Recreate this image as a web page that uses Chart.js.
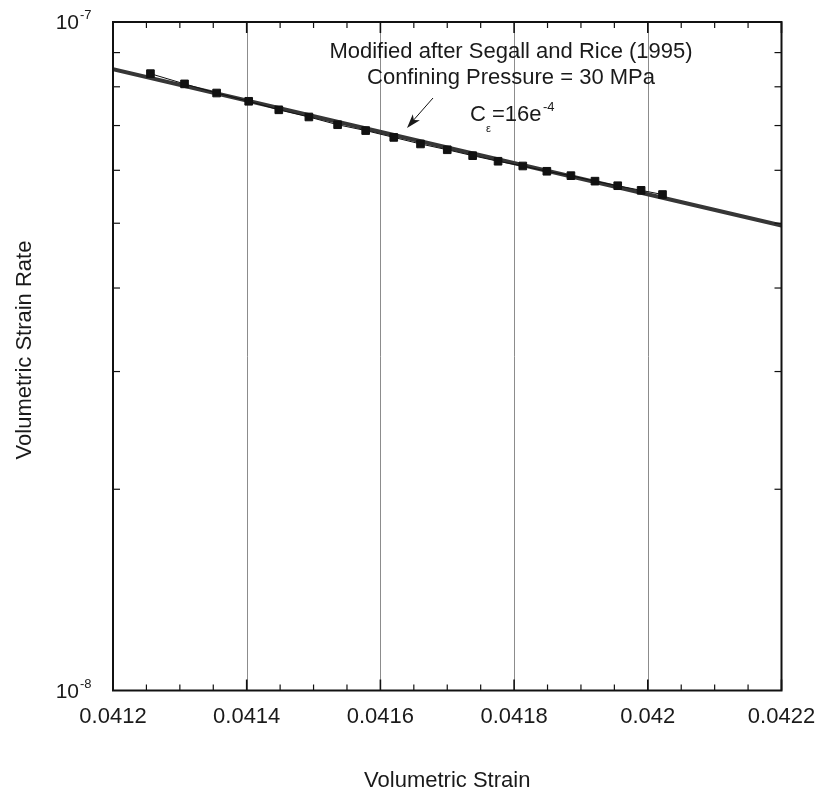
<!DOCTYPE html>
<html>
<head>
<meta charset="utf-8">
<script src="https://cdn.jsdelivr.net/npm/chart.js@4.4.1/dist/chart.umd.min.js"></script>
<style>
  body { margin: 0; background: #fff; }
  canvas { display: block; }
</style>
</head>
<body>
<canvas id="strainChart" width="817" height="793"></canvas>
<script>
// measured points (volumetric strain vs strain rate)
const strainData = [0.041256, 0.041307, 0.041355, 0.041403, 0.041448, 0.041493, 0.041536, 0.041578, 0.041620, 0.041660,
                    0.041700, 0.041738, 0.041776, 0.041813, 0.041849, 0.041885, 0.041921, 0.041955, 0.041990, 0.042022];
const rateData = [8.37e-8, 8.08e-8, 7.83e-8, 7.61e-8, 7.39e-8, 7.21e-8, 7.02e-8, 6.88e-8, 6.72e-8, 6.57e-8,
                  6.44e-8, 6.31e-8, 6.19e-8, 6.09e-8, 5.98e-8, 5.89e-8, 5.78e-8, 5.69e-8, 5.60e-8, 5.52e-8];
// model curve, C_eps = 16e-4
const fitStrain = [0.0412, 0.0417, 0.0422];
const fitRate = [8.50e-8, 6.49e-8, 4.96e-8];

// axes
const xTickValues = [0.0412, 0.0414, 0.0416, 0.0418, 0.042, 0.0422];
const xTickLabels = ['0.0412', '0.0414', '0.0416', '0.0418', '0.042', '0.0422'];
const xMinorTicks = [0.04125, 0.0413, 0.04135, 0.04145, 0.0415, 0.04155, 0.04165, 0.0417, 0.04175,
                     0.04185, 0.0419, 0.04195, 0.04205, 0.0421, 0.04215];
const yTickValues = [1e-8, 1e-7];
const yTickExps = ['-8', '-7'];
const yMinorTicks = [2e-8, 3e-8, 4e-8, 5e-8, 6e-8, 7e-8, 8e-8, 9e-8];

const FONT = '"Liberation Sans", Arial, Helvetica, sans-serif';

function txt(ctx, s, x, y, size, align) {
  ctx.font = size + 'px ' + FONT;
  ctx.textAlign = align || 'left';
  ctx.textBaseline = 'alphabetic';
  ctx.fillText(s, x, y);
}
function seg(ctx, x1, y1, x2, y2) {
  ctx.beginPath(); ctx.moveTo(x1, y1); ctx.lineTo(x2, y2); ctx.stroke();
}

const axesPlugin = {
  id: 'axesDeco',
  beforeDatasetsDraw(chart) {
    const { ctx, chartArea: a, scales: { x } } = chart;
    ctx.save();
    ctx.strokeStyle = '#8c8c8c';
    ctx.lineWidth = 1;
    xTickValues.slice(1, -1).forEach(v => {
      const px = Math.round(x.getPixelForValue(v)) + 0.5;
      seg(ctx, px, a.top, px, a.bottom);
    });
    ctx.restore();
  },
  afterDraw(chart) {
    const { ctx, chartArea: a, scales: { x, y } } = chart;
    ctx.save();
    ctx.strokeStyle = '#111';
    ctx.fillStyle = '#111';

    // tick marks, all inward
    ctx.lineWidth = 1.2;
    xMinorTicks.forEach(v => {
      const px = x.getPixelForValue(v);
      seg(ctx, px, a.bottom, px, a.bottom - 6);
      seg(ctx, px, a.top, px, a.top + 6);
    });
    ctx.lineWidth = 1.6;
    xTickValues.forEach(v => {
      const px = x.getPixelForValue(v);
      seg(ctx, px, a.bottom, px, a.bottom - 11);
      seg(ctx, px, a.top, px, a.top + 11);
    });
    ctx.lineWidth = 1.2;
    yMinorTicks.forEach(v => {
      const py = y.getPixelForValue(v);
      seg(ctx, a.left, py, a.left + 7, py);
      seg(ctx, a.right, py, a.right - 7, py);
    });

    // frame
    ctx.lineWidth = 2;
    ctx.strokeRect(a.left, a.top, a.right - a.left, a.bottom - a.top);

    // tick labels
    ctx.fillStyle = '#1a1a1a';
    xTickValues.forEach((v, i) => {
      txt(ctx, xTickLabels[i], x.getPixelForValue(v), a.bottom + 32, 22, 'center');
    });
    yTickValues.forEach((v, i) => {
      const py = y.getPixelForValue(v);
      txt(ctx, '10', 79, py + 7, 21, 'right');
      txt(ctx, yTickExps[i], 80, py - 3, 13, 'left');
    });

    // axis titles
    txt(ctx, 'Volumetric Strain', (a.left + a.right) / 2, 787, 22, 'center');
    ctx.save();
    ctx.translate(31, 350);
    ctx.rotate(-Math.PI / 2);
    txt(ctx, 'Volumetric Strain Rate', 0, 0, 22, 'center');
    ctx.restore();

    // annotation
    txt(ctx, 'Modified after Segall and Rice (1995)', 511, 58, 22, 'center');
    txt(ctx, 'Confining Pressure = 30 MPa', 511, 84, 22, 'center');
    txt(ctx, 'C', 470, 121, 22, 'left');
    txt(ctx, '\u03b5', 486, 132, 11, 'left');
    txt(ctx, '=16e', 492, 121, 22, 'left');
    txt(ctx, '-4', 543, 111, 13, 'left');

    // arrow pointing at the model curve
    const x1 = 433, y1 = 98, x2 = 407, y2 = 128;
    ctx.lineWidth = 1;
    seg(ctx, x1, y1, x2 + 4, y2 - 5);
    const ang = Math.atan2(y2 - y1, x2 - x1);
    const hl = 15, hw = 0.32;
    ctx.beginPath();
    ctx.moveTo(x2, y2);
    ctx.lineTo(x2 - hl * Math.cos(ang - hw), y2 - hl * Math.sin(ang - hw));
    ctx.lineTo(x2 - hl * 0.7 * Math.cos(ang), y2 - hl * 0.7 * Math.sin(ang));
    ctx.lineTo(x2 - hl * Math.cos(ang + hw), y2 - hl * Math.sin(ang + hw));
    ctx.closePath();
    ctx.fill();
    ctx.restore();
  }
};

const ctx = document.getElementById('strainChart').getContext('2d');
new Chart(ctx, {
  type: 'scatter',
  data: {
    datasets: [
      {
        label: 'Measured',
        data: strainData.map((v, i) => ({ x: v, y: rateData[i] })),
        showLine: true,
        borderColor: '#111',
        borderWidth: 1,
        backgroundColor: '#111',
        pointStyle: 'rect',
        pointRadius: 5.4,
        pointBorderWidth: 1,
        pointBorderColor: '#111',
        pointBackgroundColor: '#111',
        order: 0
      },
      {
        label: 'Model',
        data: fitStrain.map((v, i) => ({ x: v, y: fitRate[i] })),
        showLine: true,
        borderColor: '#363636',
        borderWidth: 4,
        pointRadius: 0,
        order: 1
      }
    ]
  },
  options: {
    responsive: false,
    animation: false,
    devicePixelRatio: 1,
    layout: { padding: { left: 113, top: 22, right: 35.5, bottom: 102.5 } },
    plugins: { legend: { display: false }, tooltip: { enabled: false } },
    scales: {
      x: { type: 'linear', min: 0.0412, max: 0.0422, display: false },
      y: { type: 'logarithmic', min: 1e-8, max: 1e-7, display: false }
    }
  },
  plugins: [axesPlugin]
});
</script>
</body>
</html>
